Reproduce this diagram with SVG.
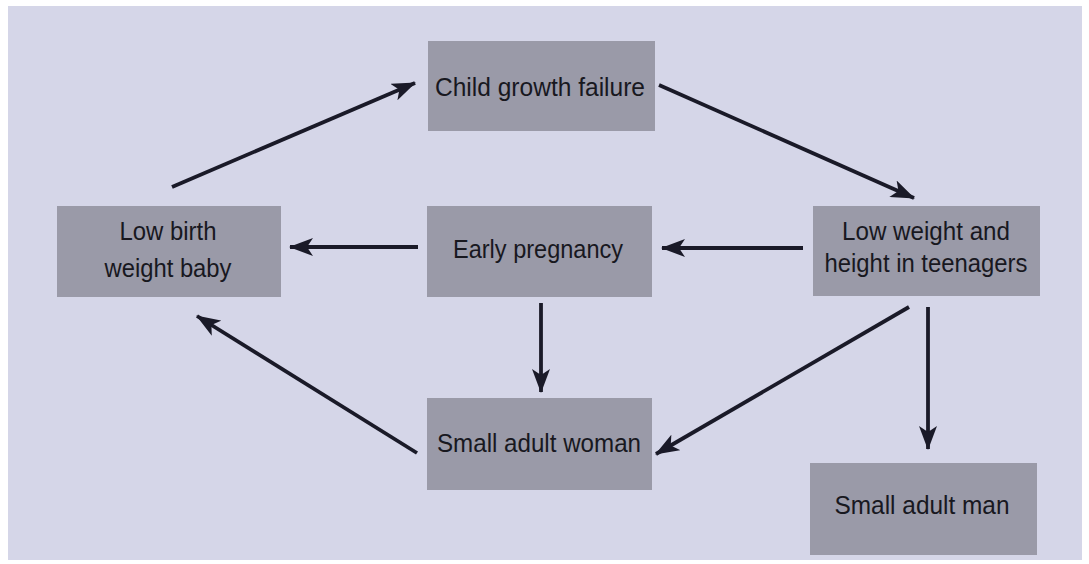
<svg xmlns="http://www.w3.org/2000/svg" width="1089" height="564" viewBox="0 0 1089 564">
  <style>
    .box { fill: #9a9aa8; }
    .lbl { font-family: "Liberation Sans", Arial, sans-serif; font-size: 25px; fill: #18181f; text-anchor: middle; }
    .conn { stroke: #1a1a28; stroke-width: 3.8; fill: none; marker-end: url(#head); }
  </style>
  <defs>
    <marker id="head" viewBox="0 0 24 18" refX="23" refY="9" markerWidth="24" markerHeight="18" markerUnits="userSpaceOnUse" orient="auto">
      <path d="M0,0 L24,9 L0,18 L6,9 z" fill="#1a1a28"/>
    </marker>
  </defs>

  <!-- page -->
  <rect x="0" y="0" width="1089" height="564" fill="#ffffff"/>
  <rect x="8" y="6" width="1074" height="554" fill="#d5d6e8"/>

  <!-- connectors -->
  <g id="connectors">
    <line class="conn" x1="172" y1="187" x2="415" y2="83"/>
    <line class="conn" x1="659" y1="85" x2="914" y2="198"/>
    <line class="conn" x1="418" y1="247" x2="290" y2="247"/>
    <line class="conn" x1="803" y1="248" x2="662" y2="248"/>
    <line class="conn" x1="541" y1="303" x2="541" y2="392"/>
    <line class="conn" x1="909" y1="307" x2="656" y2="454"/>
    <line class="conn" x1="417" y1="453" x2="197" y2="316"/>
    <line class="conn" x1="928" y1="307" x2="928" y2="449"/>
  </g>

  <g id="child-growth-failure">
    <rect class="box" x="428" y="41" width="227" height="90"/>
    <text class="lbl" x="540" y="96" textLength="210" lengthAdjust="spacingAndGlyphs">Child growth failure</text>
  </g>

  <g id="low-birth-weight-baby">
    <rect class="box" x="57" y="206" width="224" height="91"/>
    <text class="lbl" x="168" y="240" textLength="97" lengthAdjust="spacingAndGlyphs">Low birth</text>
    <text class="lbl" x="168" y="277" textLength="127" lengthAdjust="spacingAndGlyphs">weight baby</text>
  </g>

  <g id="early-pregnancy">
    <rect class="box" x="427" y="206" width="225" height="91"/>
    <text class="lbl" x="538" y="258" textLength="170" lengthAdjust="spacingAndGlyphs">Early pregnancy</text>
  </g>

  <g id="low-weight-height-teenagers">
    <rect class="box" x="813" y="206" width="227" height="90"/>
    <text class="lbl" x="926" y="240" textLength="168" lengthAdjust="spacingAndGlyphs">Low weight and</text>
    <text class="lbl" x="926" y="272" textLength="203" lengthAdjust="spacingAndGlyphs">height in teenagers</text>
  </g>

  <g id="small-adult-woman">
    <rect class="box" x="427" y="398" width="225" height="92"/>
    <text class="lbl" x="539" y="452" textLength="204" lengthAdjust="spacingAndGlyphs">Small adult woman</text>
  </g>

  <g id="small-adult-man">
    <rect class="box" x="810" y="463" width="227" height="92"/>
    <text class="lbl" x="922" y="514" textLength="175" lengthAdjust="spacingAndGlyphs">Small adult man</text>
  </g>
</svg>
